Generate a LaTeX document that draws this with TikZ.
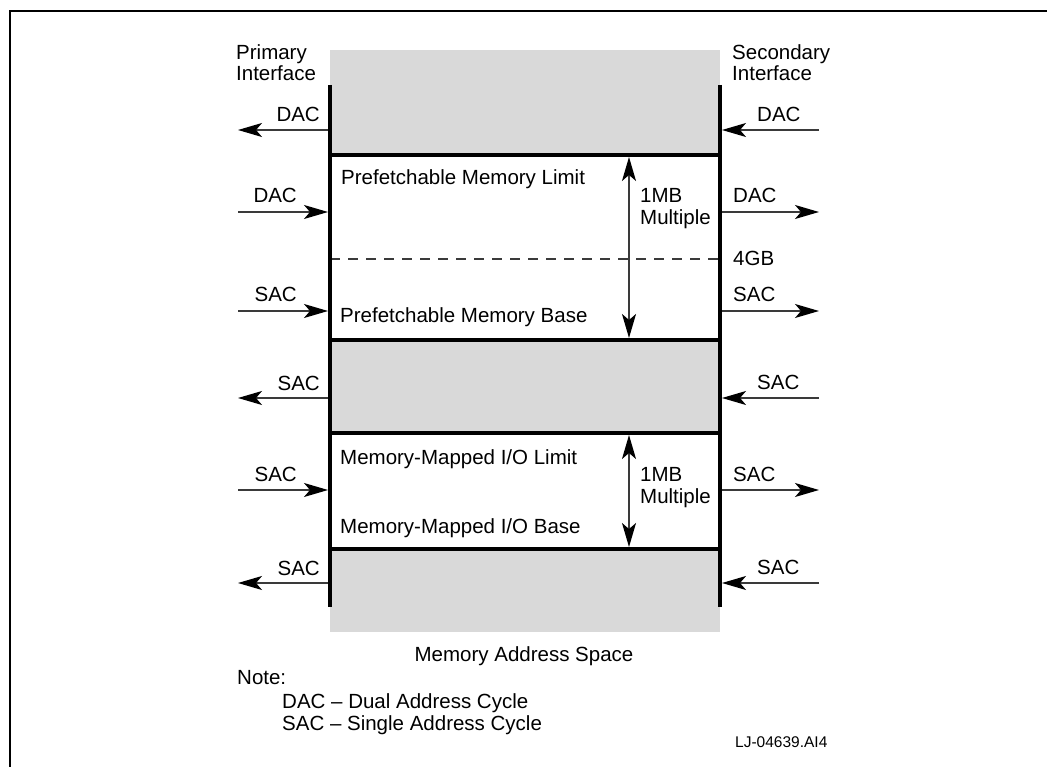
\documentclass[tikz,border=0pt]{standalone}
\usepackage{fontspec}
\setmainfont{Liberation Sans}
\usetikzlibrary{arrows.meta}
\definecolor{bandgray}{HTML}{D9D9D9}
\definecolor{linegray}{HTML}{3A3A3A}
\tikzset{
  lbl/.style={inner sep=0pt, font=\fontsize{20.5}{22}\selectfont},
  smalllbl/.style={inner sep=0pt, font=\fontsize{15.5}{17}\selectfont},
  bar/.style={line width=4pt, black},
  headtip/.tip={Stealth[length=24pt,width=14pt,inset=6pt,black]},
  sig/.style={line width=1.5pt, linegray, -headtip},
  spanarrow/.style={line width=1.5pt, linegray, headtip-headtip},
  boundary/.style={line width=1.5pt, linegray, dash pattern=on 10pt off 8pt},
  frame/.style={line width=2.5pt, black}
}
\begin{document}
\begin{tikzpicture}[x=1pt,y=-1pt]
\useasboundingbox (0,0) rectangle (1047,767);
% frame
\draw[frame] (10,767) -- (10,11) -- (1047,11);
% address space column
\fill[bandgray] (330,50) rectangle (720,632);
\fill[white] (330,155) rectangle (720,340);
\fill[white] (330,433) rectangle (720,549);
% 4GB boundary
\coordinate (gbL) at (330,259);
\coordinate (gbR) at (720,259);
\draw[boundary] (gbL) -- (gbR);
% span arrows
\coordinate (pfTop) at (629,157);
\coordinate (pfBot) at (629,338);
\coordinate (ioTop) at (629,435);
\coordinate (ioBot) at (629,547);
\draw[spanarrow] (pfTop) -- (pfBot);
\draw[spanarrow] (ioTop) -- (ioBot);
% horizontal bars
\foreach \yy/\nm in {155/h1,340/h2,433/h3,549/h4}{
  \coordinate (\nm L) at (328,\yy);
  \coordinate (\nm R) at (722,\yy);
  \draw[bar] (\nm L) -- (\nm R);
}
% interface bars
\coordinate (priTop) at (330,85);
\coordinate (priBot) at (330,607);
\coordinate (secTop) at (720,85);
\coordinate (secBot) at (720,607);
\draw[bar] (priTop) -- (priBot);
\draw[bar] (secTop) -- (secBot);
% headers
\node[lbl, anchor=base west] (pri1) at (236,60) {Primary};
\node[lbl, anchor=base west] (pri2) at (236,81) {Interface};
\node[lbl, anchor=base west] (sec1) at (732,60) {Secondary};
\node[lbl, anchor=base west] (sec2) at (732,81) {Interface};
% left side arrow end points
\foreach \yy/\nm in {130/a,212/b,311/c,398/d,490/e,583/f}{
  \coordinate (L\nm line) at (328,\yy);
  \coordinate (L\nm end) at (238,\yy);
}
\draw[sig] (Laline) -- (Laend);
\draw[sig] (Lbend) -- (Lbline);
\draw[sig] (Lcend) -- (Lcline);
\draw[sig] (Ldline) -- (Ldend);
\draw[sig] (Leend) -- (Leline);
\draw[sig] (Lfline) -- (Lfend);
\node[lbl, anchor=base east] (la) at (320,122) {DAC};
\node[lbl, anchor=base east] (lb) at (297,203) {DAC};
\node[lbl, anchor=base east] (lc) at (297,302) {SAC};
\node[lbl, anchor=base east] (ld) at (320,390) {SAC};
\node[lbl, anchor=base east] (le) at (297,481) {SAC};
\node[lbl, anchor=base east] (lf) at (320,575) {SAC};
% right side arrow end points
\foreach \yy/\nm in {130/a,212/b,311/c,398/d,490/e,583/f}{
  \coordinate (R\nm line) at (722,\yy);
  \coordinate (R\nm end) at (819,\yy);
}
\draw[sig] (Raend) -- (Raline);
\draw[sig] (Rbline) -- (Rbend);
\draw[sig] (Rcline) -- (Rcend);
\draw[sig] (Rdend) -- (Rdline);
\draw[sig] (Reline) -- (Reend);
\draw[sig] (Rfend) -- (Rfline);
\node[lbl, anchor=base west] (ra) at (757,122) {DAC};
\node[lbl, anchor=base west] (rb) at (733,203) {DAC};
\node[lbl, anchor=base west] (gb) at (733,266) {4GB};
\node[lbl, anchor=base west] (rc) at (733,302) {SAC};
\node[lbl, anchor=base west] (rd) at (757,389) {SAC};
\node[lbl, anchor=base west] (re) at (733,481) {SAC};
\node[lbl, anchor=base west] (rf) at (757,574) {SAC};
% region labels
\node[lbl, anchor=base west] (pml) at (341,185) {Prefetchable Memory Limit};
\node[lbl, anchor=base west] (pmb) at (340,323) {Prefetchable Memory Base};
\node[lbl, anchor=base west] (iol) at (340,464) {Memory-Mapped I/O Limit};
\node[lbl, anchor=base west] (iob) at (340,533) {Memory-Mapped I/O Base};
\node[lbl, anchor=base west] (mb1) at (640,203) {1MB};
\node[lbl, anchor=base west] (mp1) at (640,225) {Multiple};
\node[lbl, anchor=base west] (mb2) at (640,481) {1MB};
\node[lbl, anchor=base west] (mp2) at (640,503) {Multiple};
% captions
\node[lbl, anchor=base] (mas) at (524,661) {Memory Address Space};
\node[lbl, anchor=base west] (note) at (237,684) {Note:};
\node[lbl, anchor=base west] (n1) at (282,708) {DAC -- Dual Address Cycle};
\node[lbl, anchor=base west] (n2) at (282,730) {SAC -- Single Address Cycle};
\node[smalllbl, anchor=base west] (fig) at (735,747) {LJ-04639.AI4};
\end{tikzpicture}
\end{document}
